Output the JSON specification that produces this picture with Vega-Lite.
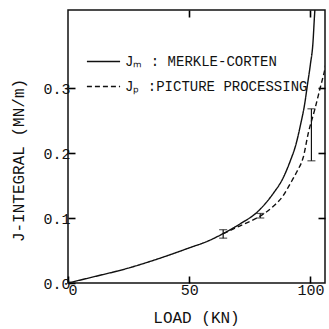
{
  "$schema": "https://vega.github.io/schema/vega-lite/v6.json",
  "width": 257,
  "height": 273,
  "autosize": {"type": "none"},
  "padding": {"left": 68, "top": 10, "right": 4, "bottom": 46},
  "background": "white",
  "config": {
    "view": {"stroke": "#111", "strokeWidth": 1.5},
    "font": "Liberation Mono",
    "axis": {
      "domain": false,
      "grid": false,
      "ticks": true,
      "tickSize": -7,
      "tickColor": "#000",
      "tickWidth": 1.6,
      "zindex": 1,
      "labelFont": "Liberation Mono",
      "labelFontSize": 15,
      "labelColor": "#111",
      "titleFont": "Liberation Mono",
      "titleFontSize": 16,
      "titleFontWeight": "normal",
      "titleColor": "#111"
    },
    "legend": {
      "labelFont": "Liberation Mono",
      "labelFontSize": 14,
      "labelColor": "#111",
      "labelLimit": 400
    }
  },
  "datasets": {
    "curves": [
      {"series": "Jₘ : MERKLE-CORTEN", "load": 0, "J": 0},
      {"series": "Jₘ : MERKLE-CORTEN", "load": 10, "J": 0.009},
      {"series": "Jₘ : MERKLE-CORTEN", "load": 24, "J": 0.022},
      {"series": "Jₘ : MERKLE-CORTEN", "load": 37, "J": 0.037},
      {"series": "Jₘ : MERKLE-CORTEN", "load": 50, "J": 0.054},
      {"series": "Jₘ : MERKLE-CORTEN", "load": 58, "J": 0.065},
      {"series": "Jₘ : MERKLE-CORTEN", "load": 64, "J": 0.076},
      {"series": "Jₘ : MERKLE-CORTEN", "load": 71, "J": 0.091},
      {"series": "Jₘ : MERKLE-CORTEN", "load": 78, "J": 0.109},
      {"series": "Jₘ : MERKLE-CORTEN", "load": 84.7, "J": 0.138},
      {"series": "Jₘ : MERKLE-CORTEN", "load": 88.5, "J": 0.16},
      {"series": "Jₘ : MERKLE-CORTEN", "load": 91.7, "J": 0.188},
      {"series": "Jₘ : MERKLE-CORTEN", "load": 94, "J": 0.213},
      {"series": "Jₘ : MERKLE-CORTEN", "load": 96, "J": 0.245},
      {"series": "Jₘ : MERKLE-CORTEN", "load": 97.6, "J": 0.275},
      {"series": "Jₘ : MERKLE-CORTEN", "load": 98.8, "J": 0.306},
      {"series": "Jₘ : MERKLE-CORTEN", "load": 100, "J": 0.337},
      {"series": "Jₘ : MERKLE-CORTEN", "load": 101, "J": 0.368},
      {"series": "Jₘ : MERKLE-CORTEN", "load": 101.7, "J": 0.413},
      {"series": "Jₘ : MERKLE-CORTEN", "load": 102, "J": 0.43},
      {"series": "Jₚ :PICTURE PROCESSING", "load": 64, "J": 0.076},
      {"series": "Jₚ :PICTURE PROCESSING", "load": 71, "J": 0.088},
      {"series": "Jₚ :PICTURE PROCESSING", "load": 79.3, "J": 0.103},
      {"series": "Jₚ :PICTURE PROCESSING", "load": 84.7, "J": 0.118},
      {"series": "Jₚ :PICTURE PROCESSING", "load": 88.5, "J": 0.133},
      {"series": "Jₚ :PICTURE PROCESSING", "load": 91.7, "J": 0.153},
      {"series": "Jₚ :PICTURE PROCESSING", "load": 94.5, "J": 0.172},
      {"series": "Jₚ :PICTURE PROCESSING", "load": 97, "J": 0.193},
      {"series": "Jₚ :PICTURE PROCESSING", "load": 99.2, "J": 0.232},
      {"series": "Jₚ :PICTURE PROCESSING", "load": 102, "J": 0.27},
      {"series": "Jₚ :PICTURE PROCESSING", "load": 104, "J": 0.3},
      {"series": "Jₚ :PICTURE PROCESSING", "load": 106, "J": 0.33},
      {"series": "Jₚ :PICTURE PROCESSING", "load": 107, "J": 0.35}
    ],
    "errors": [
      {"load": 64, "lo": 0.069, "hi": 0.082},
      {"load": 79.3, "lo": 0.1, "hi": 0.107},
      {"load": 100.4, "lo": 0.188, "hi": 0.268}
    ]
  },
  "layer": [
    {
      "data": {"name": "curves"},
      "mark": {"type": "line", "clip": true, "strokeWidth": 1.4, "color": "#111", "interpolate": "monotone"},
      "encoding": {
        "x": {
          "field": "load", "type": "quantitative",
          "scale": {"domain": [0, 106], "nice": false, "zero": false},
          "axis": {"values": [0, 50, 100], "title": "LOAD (KN)", "labelPadding": 6, "titleX": 128, "titleY": 34, "titleBaseline": "middle", "titleAlign": "center"}
        },
        "y": {
          "field": "J", "type": "quantitative",
          "scale": {"domain": [0, 0.42], "nice": false},
          "axis": {"values": [0, 0.1, 0.2, 0.3], "format": ".1f", "title": "J-INTEGRAL (MN/m)", "labelPadding": 5, "titleX": -50, "titleY": 150, "titleBaseline": "middle", "titleAlign": "center"}
        },
        "strokeDash": {
          "field": "series", "type": "nominal",
          "scale": {"domain": ["Jₘ : MERKLE-CORTEN", "Jₚ :PICTURE PROCESSING"], "range": [[1, 0], [5, 3]]},
          "legend": {"title": null, "orient": "none", "legendX": 18, "legendY": 34, "symbolType": "stroke", "symbolSize": 1100, "symbolStrokeWidth": 1.4, "symbolStrokeColor": "#111", "rowPadding": 0, "labelOffset": 4}
        }
      }
    },
    {
      "data": {"name": "errors"},
      "mark": {"type": "errorbar", "ticks": {"size": 8, "color": "#111", "thickness": 1.2}, "color": "#111", "thickness": 1.2},
      "encoding": {
        "x": {"field": "load", "type": "quantitative", "axis": null},
        "y": {"field": "lo", "type": "quantitative", "axis": null},
        "y2": {"field": "hi"}
      }
    },
    {
      "data": {"name": "errors"},
      "mark": {"type": "point", "opacity": 0},
      "encoding": {
        "x": {"field": "load", "type": "quantitative", "axis": {"orient": "top", "values": [50, 100], "labels": false, "title": null}},
        "y": {"field": "lo", "type": "quantitative", "axis": {"orient": "right", "values": [0.1, 0.2, 0.3], "labels": false, "title": null}}
      }
    }
  ],
  "resolve": {"axis": {"x": "independent", "y": "independent"}}
}
